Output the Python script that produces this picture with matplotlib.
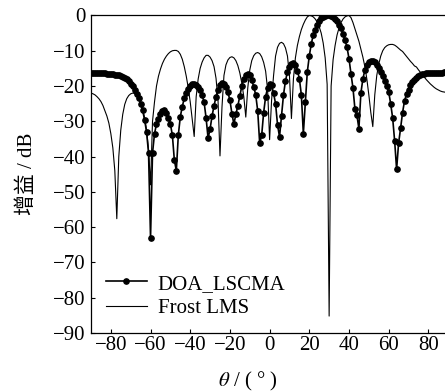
import numpy as np
import matplotlib
matplotlib.use('Agg')
import matplotlib.pyplot as plt

plt.rcParams['font.family'] = ['Liberation Serif', 'Noto Sans CJK SC']
plt.rcParams['mathtext.fontset'] = 'stix'

# beam patterns, 1 degree steps from -90 to 90
theta = np.arange(-90, 91)

doa_lscma = [
    -16.3, -16.3, -16.3, -16.3, -16.3, -16.4, -16.4, -16.4, -16.5, -16.5,   # -90..-81
    -16.6, -16.7, -16.8, -16.9, -17.0, -17.2, -17.4, -17.7, -18.1, -18.6,   # -80..-71
    -19.3, -20.0, -21.0, -22.2, -23.5, -25.0, -26.8, -29.6, -33.0, -39.0,   # -70..-61
    -63.0, -39.0, -33.5, -30.8, -29.2, -27.8, -27.0, -26.9, -27.5, -29.0,   # -60..-51
    -30.8, -33.9, -41.0, -44.0, -33.9, -28.7, -25.8, -23.5, -21.9, -20.8,   # -50..-41
    -20.0, -19.5, -19.4, -19.7, -20.3, -21.2, -22.6, -24.6, -29.1, -34.8,   # -40..-31
    -32.2, -28.5, -25.6, -23.0, -21.0, -19.8, -19.2, -19.4, -20.3, -21.8,   # -30..-21
    -24.0, -27.8, -30.8, -28.0, -25.6, -22.8, -20.0, -18.0, -16.9, -16.6,   # -20..-11
    -16.9, -18.3, -20.2, -22.5, -27.0, -36.2, -34.0, -27.5, -23.0, -20.5,   # -10..-1
    -19.4, -19.8, -22.0, -25.0, -31.0, -34.4, -28.5, -22.5, -18.5, -16.0,   # 0..9
    -14.6, -13.8, -13.6, -14.0, -15.6, -17.9, -22.5, -33.5, -24.5, -16.0,   # 10..19
    -11.5, -8.0, -5.6, -4.0, -2.8, -1.6, -0.8, -0.3, -0.1, 0.0,             # 20..29
    0.0, -0.1, -0.4, -0.9, -1.7, -2.6, -3.6, -5.2, -7.0, -9.0,              # 30..39
    -12.2, -16.5, -20.5, -26.5, -28.3, -32.1, -22.0, -18.0, -15.5, -14.0,   # 40..49
    -13.2, -12.8, -12.9, -13.2, -14.0, -15.0, -16.0, -17.2, -18.5, -20.0,   # 50..59
    -21.6, -25.0, -29.0, -35.5, -43.6, -36.2, -32.0, -27.5, -24.2, -22.3,   # 60..69
    -21.0, -19.8, -18.9, -18.2, -17.6, -17.2, -16.9, -16.7, -16.5, -16.4,   # 70..79
    -16.4, -16.3, -16.3, -16.3, -16.3, -16.2, -16.2, -16.2, -16.1, -16.1,   # 80..89
    -16.1]                                                                  # 90

frost_lms = [
    -22.0, -22.2, -22.5, -23.0, -23.6, -24.4, -25.5, -27.0, -28.5, -30.5,   # -90..-81
    -33.5, -37.5, -44.0, -57.6, -40.0, -32.5, -28.0, -25.2, -23.6, -22.7,   # -80..-71
    -22.2, -22.0, -22.1, -22.6, -23.5, -24.8, -26.6, -29.0, -32.5, -38.0,   # -70..-61
    -48.0, -30.0, -24.5, -20.0, -17.2, -15.2, -13.6, -12.4, -11.5, -10.8,   # -60..-51
    -10.3, -10.0, -9.9, -9.9, -10.2, -11.0, -12.4, -14.5, -17.2, -20.5,     # -50..-41
    -24.5, -29.5, -34.3, -23.0, -18.0, -15.0, -13.2, -12.0, -11.3, -11.3,   # -40..-31
    -11.8, -12.8, -14.5, -17.8, -24.0, -39.8, -26.0, -17.0, -14.0, -12.6,   # -30..-21
    -11.9, -11.7, -12.0, -12.8, -14.2, -16.3, -19.2, -23.0, -28.8, -20.5,   # -20..-11
    -15.5, -12.8, -11.4, -10.7, -10.5, -10.8, -11.7, -13.3, -15.8, -21.0,   # -10..-1
    -35.2, -24.0, -17.0, -11.5, -9.0, -7.9, -7.6, -8.0, -9.2, -11.5,        # 0..9
    -17.0, -29.2, -18.0, -12.0, -8.5, -6.0, -4.0, -2.5, -1.3, -0.4,         # 10..19
    0.0, -0.1, -0.4, -1.0, -1.9, -3.2, -5.0, -7.8, -12.0, -19.5,            # 20..29
    -85.2, -20.0, -12.5, -8.5, -5.5, -3.5, -2.0, -1.0, -0.4, -0.1,          # 30..39
    0.0, -0.6, -2.0, -3.8, -5.5, -7.3, -9.5, -11.8, -14.5, -18.0,           # 40..49
    -22.5, -27.5, -31.5, -22.5, -17.0, -13.8, -11.5, -10.0, -9.1, -8.6,     # 50..59
    -8.3, -8.2, -8.2, -8.4, -8.8, -9.3, -9.8, -10.2, -10.9, -11.6,          # 60..69
    -12.3, -13.0, -13.6, -14.3, -14.6, -15.4, -16.1, -16.8, -17.5, -18.2,   # 70..79
    -18.8, -19.4, -19.9, -20.4, -20.8, -21.1, -21.4, -21.6, -21.7, -21.8,   # 80..89
    -21.9]                                                                  # 90

fig = plt.figure(figsize=(4.45, 3.92), dpi=100)
ax = fig.add_axes([0.2045, 0.1505, 0.8027, 0.81])

ax.plot(theta, doa_lscma, '-o', color='black', lw=1.2, ms=3.8,
        label='DOA_LSCMA', zorder=3)
ax.plot(theta, frost_lms, '-', color='black', lw=0.8,
        label='Frost LMS', zorder=2)

ax.set_xlim(-90, 90)
ax.set_ylim(-90, 0)
ax.set_xticks(np.arange(-80, 81, 20))
ax.set_yticks(np.arange(-90, 1, 10))
ax.tick_params(direction='in', length=3, width=0.8, labelsize=15, pad=4)
ax.tick_params(axis='x', pad=2)
for s in ax.spines.values():
    s.set_linewidth(0.9)

ax.set_ylabel('增益 / dB', fontsize=15)
ax.yaxis.set_label_coords(-0.15, 0.5)
ax.set_xlabel(r'$\theta$ / ( ° )', fontsize=15)
ax.xaxis.set_label_coords(0.44, -0.115)

ax.legend(loc='lower left', bbox_to_anchor=(0.0, 0.0), frameon=False,
          fontsize=15, numpoints=1, handlelength=2.0, handletextpad=0.5,
          labelspacing=0.25, borderaxespad=0.3)

fig.savefig('out.png', dpi=100)
